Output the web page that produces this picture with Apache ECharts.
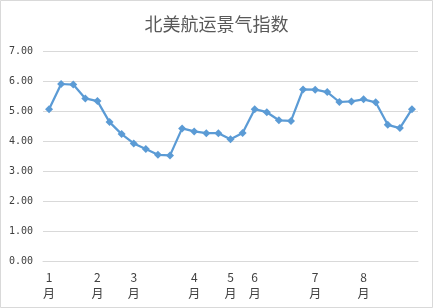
<!DOCTYPE html>
<html><head><meta charset="utf-8">
<script src="https://cdn.jsdelivr.net/npm/echarts@6/dist/echarts.min.js"></script>
<style>html,body{margin:0;padding:0;background:#fff}#c{width:433px;height:308px}</style>
</head><body><div id="c"></div>
<script>
const titleText = "北美航运景气指数";
const categories = ["1\n月","","","","2\n月","","","3\n月","","","","","4\n月","","","5\n月","","6\n月","","","","","7\n月","","","","8\n月","","","",""];
const values = [5.06,5.90,5.88,5.42,5.33,4.63,4.23,3.92,3.73,3.54,3.52,4.42,4.32,4.26,4.26,4.06,4.27,5.06,4.96,4.69,4.67,5.72,5.71,5.63,5.30,5.32,5.39,5.29,4.54,4.43,5.06];
const yTicks = [0,1,2,3,4,5,6,7];

const chart = echarts.init(document.getElementById('c'), null, {renderer:'canvas'});
chart.setOption({
  animation:false,
  backgroundColor:'#fff',
  graphic:[{type:'rect',shape:{x:0.5,y:0.5,width:432,height:307},style:{fill:'none',stroke:'#d9d9d9',lineWidth:1},z:-1}],
  title:{text:titleText,left:'center',top:10,textStyle:{fontFamily:'Noto Sans CJK SC',fontSize:18,fontWeight:'normal',color:'#595959'}},
  grid:{left:43,right:15,top:51,bottom:47},
  xAxis:{type:'category',data:categories,boundaryGap:true,
    axisLine:{lineStyle:{color:'#d9d9d9'}},axisTick:{show:false},
    axisLabel:{interval:0,color:'#404040',fontFamily:'Noto Sans CJK SC',fontSize:12,lineHeight:16,margin:8}},
  yAxis:{type:'value',min:yTicks[0],max:yTicks[yTicks.length-1],interval:1,
    axisLine:{show:false},axisTick:{show:false},
    splitLine:{lineStyle:{color:'#d9d9d9'}},
    axisLabel:{formatter:v=>v.toFixed(2),color:'#404040',fontFamily:'DejaVu Sans Mono',fontSize:10,margin:10}},
  series:[{type:'line',data:values,symbol:'diamond',symbolSize:8,
    lineStyle:{color:'#5B9BD5',width:2.25},itemStyle:{color:'#5B9BD5'}}]
});
</script></body></html>
